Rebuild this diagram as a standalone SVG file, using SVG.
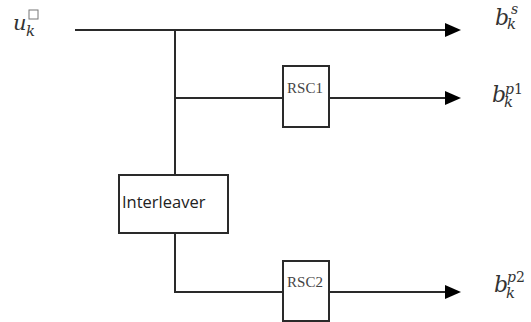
<svg xmlns="http://www.w3.org/2000/svg" width="531" height="322" viewBox="0 0 531 322">
<style>
.ln{stroke:#2a2a2a;stroke-width:2;fill:none}
.bx{stroke:#2a2a2a;stroke-width:2;fill:#fff}
.m{font-family:"DejaVu Serif","Liberation Serif",serif;font-style:italic;fill:#333}
.rsc{font-family:"Liberation Serif",serif;font-size:15px;fill:#444}
.il{font-family:"Open Sans","Liberation Sans",sans-serif;font-size:16.5px;fill:#222}
</style>
<defs>
<marker id="ah" markerWidth="16" markerHeight="14" refX="0" refY="7" markerUnits="userSpaceOnUse" orient="auto">
<polygon points="0,0 16,7 0,14" fill="#000"/>
</marker>
</defs>
<rect width="531" height="322" fill="#fff"/>
<g id="connectors">
<line class="ln" x1="75" y1="30" x2="445" y2="30" marker-end="url(#ah)"/>
<line class="ln" x1="175" y1="30" x2="175" y2="175"/>
<line class="ln" x1="175" y1="98" x2="283" y2="98"/>
<line class="ln" x1="329" y1="98" x2="445" y2="98" marker-end="url(#ah)"/>
<polyline class="ln" points="175,233 175,292 283,292"/>
<line class="ln" x1="329" y1="292" x2="445" y2="292" marker-end="url(#ah)"/>
</g>
<g id="input">
<text class="m" x="13" y="30" font-size="21">u<tspan x="26" y="36" font-size="15">k</tspan></text>
<rect x="29" y="10" width="9" height="9" fill="none" stroke="#777" stroke-width="1"/>
</g>
<g id="rsc1">
<rect class="bx" x="283" y="66" width="46" height="61"/>
<text class="rsc" x="305" y="93" text-anchor="middle">RSC1</text>
</g>
<g id="interleaver">
<rect class="bx" x="119" y="175" width="109" height="58"/>
<text class="il" x="122" y="208">Interleaver</text>
</g>
<g id="rsc2">
<rect class="bx" x="283" y="261" width="46" height="60"/>
<text class="rsc" x="305" y="287" text-anchor="middle">RSC2</text>
</g>
<g id="out-s">
<text class="m" x="495" y="25" font-size="22">b<tspan x="507" y="29" font-size="15">k</tspan><tspan x="511" y="14" font-size="14">s</tspan></text>
</g>
<g id="out-p1">
<text class="m" x="492" y="102" font-size="22">b<tspan x="504" y="107" font-size="15">k</tspan><tspan x="505" y="94" font-size="14">p</tspan><tspan font-size="14" font-style="normal">1</tspan></text>
</g>
<g id="out-p2">
<text class="m" x="494" y="292" font-size="22">b<tspan x="506" y="298" font-size="15">k</tspan><tspan x="507" y="282" font-size="14">p</tspan><tspan font-size="14" font-style="normal">2</tspan></text>
</g>
</svg>
